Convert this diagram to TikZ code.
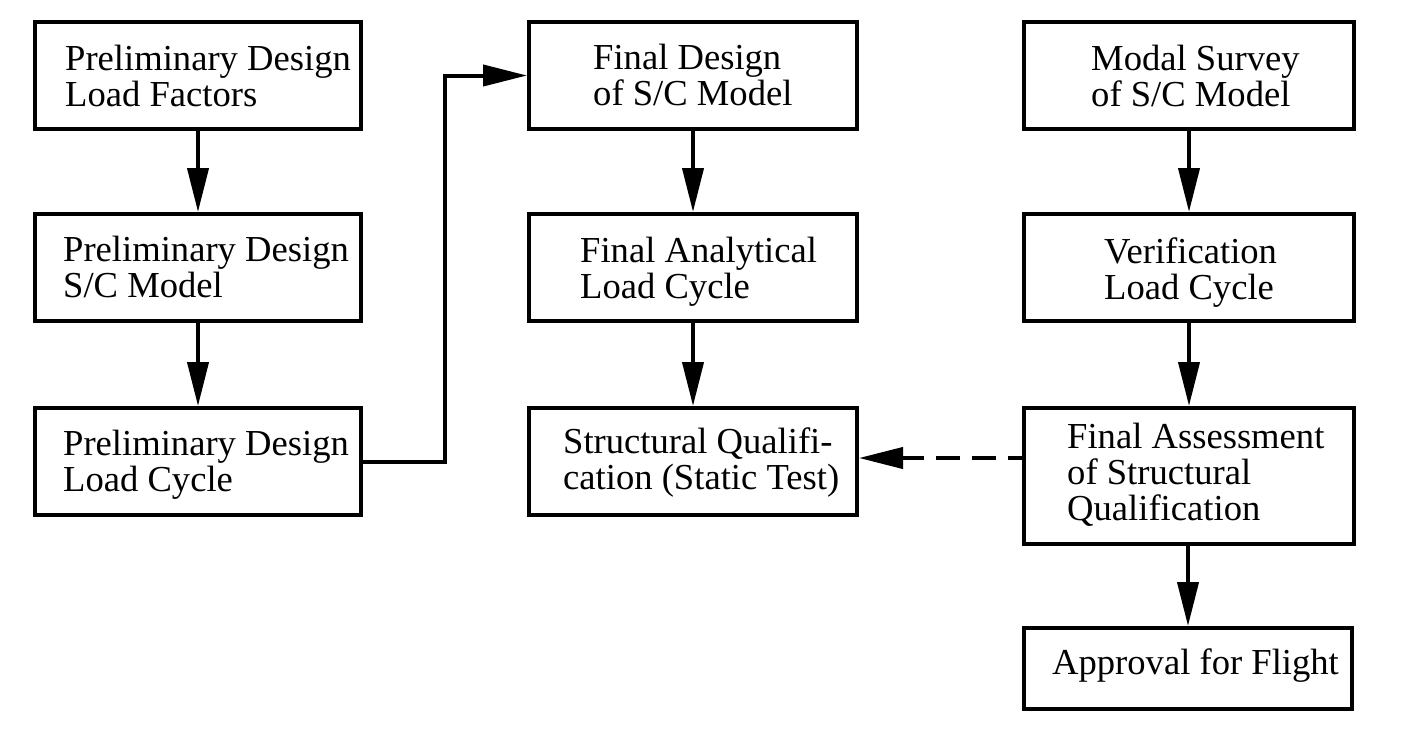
\documentclass[tikz,border=0pt]{standalone}
\usepackage{fontspec}
\setmainfont{Liberation Serif}
\usetikzlibrary{arrows.meta}
\tikzset{
  box/.style={draw, line width=4pt, rectangle, inner sep=0pt},
  boxtext/.style={inner sep=0pt, anchor=base west, font=\fontsize{36.6}{36}\selectfont},
  arr/.style={line width=4pt, -{Triangle[length=44pt, width=21pt]}},
  dasharr/.style={arr, dash pattern=on 24pt off 12pt, dash phase=8pt}
}
\newcommand{\twoline}[2]{\vtop{\lineskiplimit=-100pt\relax\hbox{#1}\hbox{#2}}}
\newcommand{\threeline}[3]{\vtop{\lineskiplimit=-100pt\relax\hbox{#1}\hbox{#2}\hbox{#3}}}
\begin{document}
\begin{tikzpicture}[x=1pt, y=-1pt]
\useasboundingbox[fill=white] (0,0) rectangle (1411,740);
% boxes
\node[box, minimum width=326pt, minimum height=107pt] (A1) at (198,75.5) {};
\node[box, minimum width=326pt, minimum height=107pt] (A2) at (198,267.5) {};
\node[box, minimum width=326pt, minimum height=107pt] (A3) at (198,461.5) {};
\node[box, minimum width=328pt, minimum height=107pt] (B1) at (693,75.5) {};
\node[box, minimum width=328pt, minimum height=107pt] (B2) at (693,267.5) {};
\node[box, minimum width=328pt, minimum height=107pt] (B3) at (693,461.5) {};
\node[box, minimum width=330pt, minimum height=107pt] (C1) at (1189,75.5) {};
\node[box, minimum width=330pt, minimum height=107pt] (C2) at (1189,267.5) {};
\node[box, minimum width=330pt, minimum height=136pt] (C3) at (1189,476) {};
\node[box, minimum width=328pt, minimum height=81pt] (C4) at (1188,668.5) {};
% texts
\node[boxtext] (A1t) at (65,70) {\twoline{Preliminary Design}{Load Factors}};
\node[boxtext] (A2t) at (63,261) {\twoline{Preliminary Design}{S/C Model}};
\node[boxtext] (A3t) at (63,455) {\twoline{Preliminary Design}{Load Cycle}};
\node[boxtext] (B1t) at (593,69) {\twoline{Final Design}{of S/C Model}};
\node[boxtext] (B2t) at (580,262) {\twoline{Final Analytical}{Load Cycle}};
\node[boxtext] (B3t) at (563,453) {\twoline{Structural Qualifi-}{cation (Static Test)}};
\node[boxtext] (C1t) at (1091,70) {\twoline{Modal Survey}{of S/C Model}};
\node[boxtext] (C2t) at (1104,263) {\twoline{Verification}{Load Cycle}};
\node[boxtext] (C3t) at (1067,448) {\threeline{Final Assessment}{of Structural}{Qualification}};
\node[boxtext] (C4t) at (1052,674) {Approval for Flight};
% connectors
\draw[arr] (A1.south) -- (A2.north);
\draw[arr] (A2.south) -- (A3.north);
\draw[arr] (B1.south) -- (B2.north);
\draw[arr] (B2.south) -- (B3.north);
\draw[arr] (C1.south) -- (C2.north);
\draw[arr] (C2.south) -- (C3.north);
\draw[arr] (C3.south -| C4.north) -- (C4.north);
\coordinate (elb) at (445,461.5);
\draw[arr] (A3.east) -- (elb) |- (B1.west);
\coordinate (dstart) at (1024,458);
\draw[dasharr] (dstart) -- (B3.east |- dstart);
\end{tikzpicture}
\end{document}
